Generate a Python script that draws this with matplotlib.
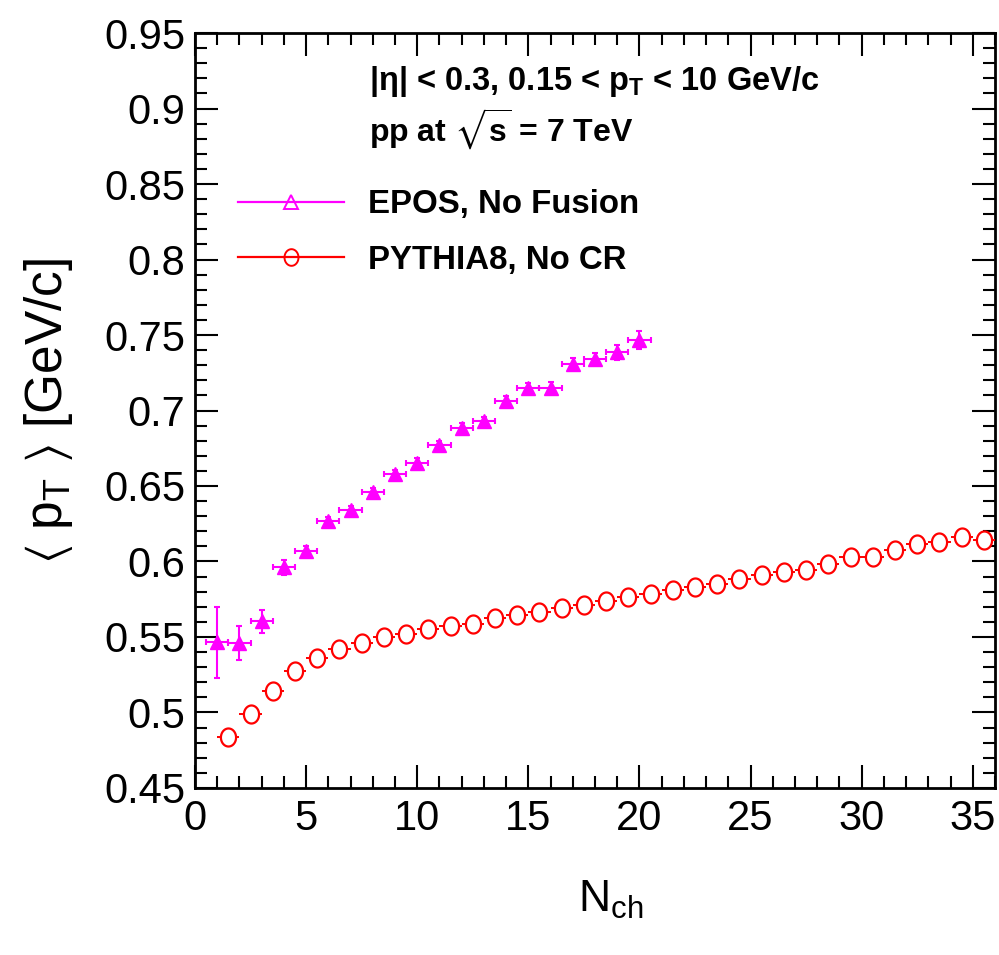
import matplotlib
matplotlib.use("Agg")
import numpy as np
import matplotlib.pyplot as plt
from matplotlib import font_manager
from matplotlib.lines import Line2D
from matplotlib.ticker import MultipleLocator

# EPOS, No Fusion (filled triangles)
epos_nch = [1, 2, 3, 4, 5, 6, 7, 8, 9, 10, 11, 12, 13, 14, 15, 16, 17, 18, 19, 20]
epos_mpt = [0.5466, 0.5460, 0.5603, 0.5963, 0.6068, 0.6267, 0.6340, 0.6457, 0.6578, 0.6653,
            0.6771, 0.6885, 0.6930, 0.7062, 0.7147, 0.7151, 0.7306, 0.7339, 0.7387, 0.7465]
epos_err = [0.0235, 0.0110, 0.0074, 0.0050, 0.0035, 0.0030, 0.0030, 0.0030, 0.0030, 0.0030,
            0.0030, 0.0030, 0.0030, 0.0035, 0.0035, 0.0035, 0.0040, 0.0040, 0.0050, 0.0060]

# PYTHIA8, No CR (open circles)
pythia_nch = [1.5, 2.5, 3.5, 4.5, 5.5, 6.5, 7.5, 8.5, 9.5, 10.5, 11.5, 12.5, 13.5, 14.5, 15.5,
              16.5, 17.5, 18.5, 19.5, 20.5, 21.5, 22.5, 23.5, 24.5, 25.5, 26.5, 27.5, 28.5,
              29.5, 30.5, 31.5, 32.5, 33.5, 34.5, 35.5]
pythia_mpt = [0.4836, 0.4987, 0.5141, 0.5274, 0.5363, 0.5422, 0.5462, 0.5499, 0.5522, 0.5550,
              0.5572, 0.5588, 0.5623, 0.5643, 0.5665, 0.5690, 0.5712, 0.5736, 0.5765, 0.5782,
              0.5809, 0.5831, 0.5853, 0.5887, 0.5908, 0.5930, 0.5946, 0.5986, 0.6030, 0.6030,
              0.6074, 0.6114, 0.6129, 0.6162, 0.6145]

names = {f.name for f in font_manager.fontManager.ttflist}
font = "Liberation Sans" if "Liberation Sans" in names else "DejaVu Sans"

plt.rcParams["font.family"] = [font, "DejaVu Sans"]
plt.rcParams["mathtext.fontset"] = "custom"
plt.rcParams["mathtext.rm"] = font
plt.rcParams["mathtext.it"] = font + ":italic"
plt.rcParams["mathtext.bf"] = font + ":bold"
plt.rcParams["mathtext.fallback"] = "stixsans"

# slightly tall open circle, like the stretched ROOT marker
t = np.linspace(0, 2 * np.pi, 41)
oval = np.column_stack([0.84 * np.cos(t), np.sin(t)])

fig = plt.figure(figsize=(9.99, 9.55), dpi=100)
ax = fig.add_axes([0.1952, 0.1749, 0.8008, 0.7905])

magenta = "#ff00ff"
red = "#ff0000"

ax.errorbar(pythia_nch, pythia_mpt, xerr=0.5, fmt="none", ecolor=red, elinewidth=1.4,
            capsize=0, zorder=3)
ax.plot(pythia_nch, pythia_mpt, ls="none", marker=oval, ms=13, mfc="white", mec=red,
        mew=1.6, zorder=3.5)
ax.errorbar(epos_nch, epos_mpt, xerr=0.5, yerr=epos_err, fmt="^", color=magenta, ms=10,
            elinewidth=1.5, capsize=2.5, capthick=1.5, zorder=4)

ax.set_xlim(0, 36)
ax.set_ylim(0.45, 0.95)
ax.xaxis.set_major_locator(MultipleLocator(5))
ax.xaxis.set_minor_locator(MultipleLocator(1))
ax.yaxis.set_major_locator(MultipleLocator(0.05))
ax.yaxis.set_minor_locator(MultipleLocator(0.01))
ax.yaxis.set_major_formatter(plt.FuncFormatter(lambda v, p: f"{v:.2f}".rstrip("0")))

ax.tick_params(which="both", direction="in", top=True, right=True, width=1.5)
ax.tick_params(which="major", length=16.5)
ax.tick_params(which="minor", length=8.5)
ax.tick_params(axis="x", which="major", labelsize=30, pad=8)
ax.tick_params(axis="y", which="major", labelsize=30, pad=7)
for s in ax.spines.values():
    s.set_linewidth(2)

ax.set_xlabel(r"N$_{\mathrm{ch}}$", fontsize=32)
ax.xaxis.set_label_coords(0.52, -0.12)
ax.set_ylabel(r"$\langle$ p$_{\mathrm{T}}$ $\rangle$ [GeV/c]", fontsize=37)
ax.yaxis.set_label_coords(-0.15, 0.5)

ax.text(0.2175, 0.936, r"|η| < 0.3, 0.15 < $\mathbf{p}_{\mathbf{T}}$ < 10 GeV/c",
        transform=ax.transAxes, fontsize=23.5, fontweight="bold", va="center")
ax.text(0.2175, 0.8725, r"pp at $\sqrt{\mathbf{s}}$ = 7 TeV",
        transform=ax.transAxes, fontsize=23, fontweight="bold", va="center")

handles = [
    Line2D([], [], color=magenta, lw=1.6, marker="^", ms=10, mfc="none", mew=1.4),
    Line2D([], [], color=red, lw=1.6, marker=oval, ms=12, mfc="none", mew=1.4),
]
ax.legend(handles, ["EPOS, No Fusion", "PYTHIA8, No CR"], loc="upper left",
          bbox_to_anchor=(0.054, 0.793), frameon=False, borderpad=0, borderaxespad=0,
          handlelength=3.2, handletextpad=0.73, labelspacing=0.74,
          prop={"family": font, "weight": "bold", "size": 23.8})

fig.savefig("out.png", dpi=100)
